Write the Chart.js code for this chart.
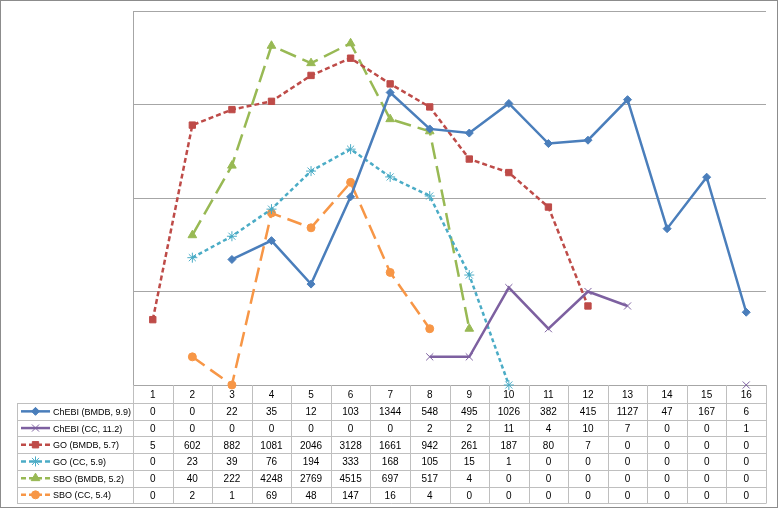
<!DOCTYPE html>
<html>
<head>
<meta charset="utf-8">
<script src="https://cdn.jsdelivr.net/npm/chart.js@4.4.1/dist/chart.umd.min.js"></script>
<style>
  body { margin: 0; background: #fff; }
  #chart { display: block; }
</style>
</head>
<body>
<canvas id="chart" width="778" height="509"></canvas>
<script>
// Categories and series counts (zeros are shown in the table, not plotted)
const categories = ['1', '2', '3', '4', '5', '6', '7', '8', '9', '10', '11', '12', '13', '14', '15', '16'];
const seriesNames = ['ChEBI (BMDB, 9.9)', 'ChEBI (CC, 11.2)', 'GO (BMDB, 5.7)', 'GO (CC, 5.9)', 'SBO (BMDB, 5.2)', 'SBO (CC, 5.4)'];
const chebiBmdb = [0, 0, 22, 35, 12, 103, 1344, 548, 495, 1026, 382, 415, 1127, 47, 167, 6];
const chebiCc = [0, 0, 0, 0, 0, 0, 0, 2, 2, 11, 4, 10, 7, 0, 0, 1];
const goBmdb = [5, 602, 882, 1081, 2046, 3128, 1661, 942, 261, 187, 80, 7, 0, 0, 0, 0];
const goCc = [0, 23, 39, 76, 194, 333, 168, 105, 15, 1, 0, 0, 0, 0, 0, 0];
const sboBmdb = [0, 40, 222, 4248, 2769, 4515, 697, 517, 4, 0, 0, 0, 0, 0, 0, 0];
const sboCc = [0, 2, 1, 69, 48, 147, 16, 4, 0, 0, 0, 0, 0, 0, 0, 0];
const yTicks = [1, 10, 100, 1000, 10000];

const allSeries = [chebiBmdb, chebiCc, goBmdb, goCc, sboBmdb, sboCc];
const styles = [
  { color: '#4a7ebb', dash: [], point: 'rectRot', r: 4 },
  { color: '#7d60a0', dash: [], point: 'crossRot', r: 5 },
  { color: '#be4b48', dash: [5, 3], point: 'rect', r: 4.5 },
  { color: '#4bacc6', dash: [4, 3], point: 'star', r: 5 },
  { color: '#98b954', dash: [17, 7], point: 'triangle', r: 5 },
  { color: '#f79646', dash: [15, 7], point: 'circle', r: 4 }
];

const GRID = '#a6a6a6';
const TABLE_LINE = '#bfbfbf';
const ROW_H = 16.7;
const HEAD_H = 18;

// Data table under the plot, aligned to the x scale
const dataTablePlugin = {
  id: 'dataTable',
  afterDraw(chart) {
    const ctx = chart.ctx;
    const area = chart.chartArea;
    const xs = chart.scales.x;
    const colW = (area.right - area.left) / categories.length;
    const top = area.bottom;
    const bodyTop = top + HEAD_H;
    const bottom = bodyTop + ROW_H * seriesNames.length;
    const legendLeft = 17;

    ctx.save();
    ctx.strokeStyle = TABLE_LINE;
    ctx.lineWidth = 1;
    ctx.beginPath();
    for (let k = 0; k <= categories.length; k++) {
      const x = Math.round(area.left + k * colW) + 0.5;
      ctx.moveTo(x, top);
      ctx.lineTo(x, bottom);
    }
    ctx.moveTo(legendLeft + 0.5, bodyTop);
    ctx.lineTo(legendLeft + 0.5, bottom);
    for (let r = 0; r <= seriesNames.length; r++) {
      const y = Math.round(bodyTop + r * ROW_H) + 0.5;
      ctx.moveTo(legendLeft, y);
      ctx.lineTo(area.right + 0.5, y);
    }
    ctx.stroke();

    ctx.fillStyle = '#000';
    ctx.font = '10px "Liberation Sans", Arial, sans-serif';
    ctx.textAlign = 'center';
    ctx.textBaseline = 'middle';
    categories.forEach((c, i) => {
      ctx.fillText(c, xs.getPixelForValue(i), top + HEAD_H / 2 + 1);
    });

    seriesNames.forEach((name, r) => {
      const cy = bodyTop + r * ROW_H + ROW_H / 2;
      const st = styles[r];
      // legend key
      ctx.save();
      ctx.strokeStyle = st.color;
      ctx.lineWidth = 2.5;
      ctx.setLineDash(st.dash.length ? [5, 3] : []);
      ctx.beginPath();
      ctx.moveTo(21, cy);
      ctx.lineTo(50, cy);
      ctx.stroke();
      ctx.setLineDash([]);
      ctx.fillStyle = st.color;
      ctx.lineWidth = 1;
      Chart.helpers.drawPoint(ctx, { pointStyle: st.point, radius: st.r, borderWidth: 1, rotation: 0 }, 35.5, cy);
      ctx.restore();

      ctx.fillStyle = '#000';
      ctx.textAlign = 'left';
      ctx.font = '9px "Liberation Sans", Arial, sans-serif';
      ctx.fillText(name, 53, cy + 1);
      ctx.font = '10px "Liberation Sans", Arial, sans-serif';
      ctx.textAlign = 'center';
      allSeries[r].forEach((v, i) => {
        ctx.fillText(String(v), xs.getPixelForValue(i), cy + 1);
      });
    });

    // outer chart border
    ctx.strokeStyle = '#8c8c8c';
    ctx.strokeRect(0.5, 0.5, chart.width - 1, chart.height - 2);
    ctx.restore();
  }
};

new Chart(document.getElementById('chart'), {
  type: 'line',
  data: {
    labels: categories,
    datasets: allSeries.map((vals, i) => ({
      label: seriesNames[i],
      data: vals.map(v => (v > 0 ? v : null)),
      borderColor: styles[i].color,
      backgroundColor: styles[i].color,
      borderDash: styles[i].dash,
      borderWidth: 2.5,
      pointStyle: styles[i].point,
      pointRadius: styles[i].r,
      pointBorderWidth: 1,
      pointBorderColor: styles[i].color,
      pointBackgroundColor: styles[i].color,
      tension: 0,
      spanGaps: false,
      clip: false
    }))
  },
  options: {
    responsive: false,
    animation: false,
    layout: { padding: { left: 133, right: 12, top: 11, bottom: 124 } },
    plugins: {
      legend: { display: false },
      tooltip: { enabled: false }
    },
    scales: {
      x: {
        display: false,
        offset: true
      },
      y: {
        type: 'logarithmic',
        min: 1,
        max: 10000,
        afterBuildTicks: scale => {
          scale.ticks = yTicks.map(v => ({ value: v }));
        },
        ticks: { display: false },
        grid: { color: GRID, drawTicks: false },
        border: { color: GRID }
      }
    }
  },
  plugins: [dataTablePlugin]
});
</script>
</body>
</html>
